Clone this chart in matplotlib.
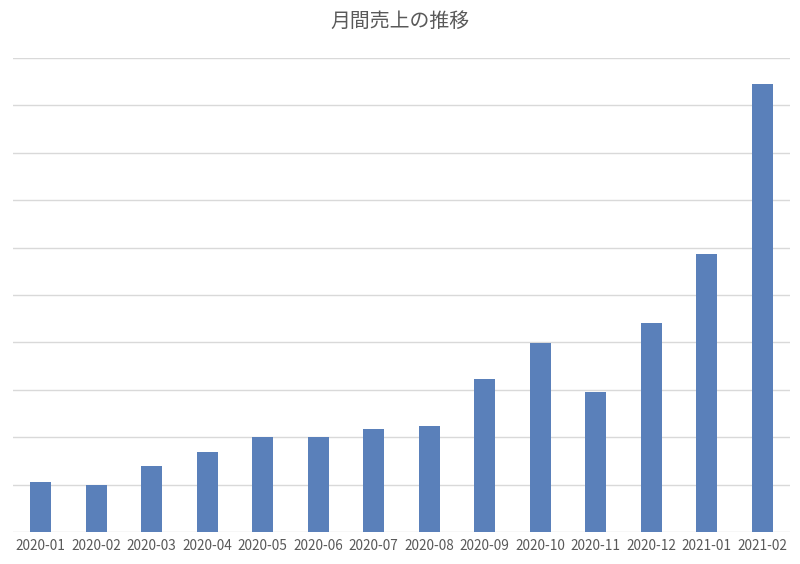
import matplotlib.pyplot as plt

plt.rcParams['font.family'] = ['Noto Sans CJK JP', 'DejaVu Sans']

months = ['2020-01', '2020-02', '2020-03', '2020-04', '2020-05', '2020-06', '2020-07',
          '2020-08', '2020-09', '2020-10', '2020-11', '2020-12', '2021-01', '2021-02']
sales = [1.05, 0.99, 1.39, 1.69, 2.0, 2.0, 2.17, 2.24, 3.23, 3.99, 2.95, 4.41, 5.86, 9.45]

fig = plt.figure(figsize=(8, 5.64), dpi=100)
ax = fig.add_axes([0.01625, 0.0567, 0.9712, 0.8403])

x = range(len(months))
ax.bar(x, sales, width=0.38, color='#5a80ba', zorder=2)

ax.set_xlim(-0.5, len(months) - 0.5)
ax.set_ylim(0, 10)
ax.set_yticks(range(0, 11))
ax.yaxis.grid(True, color='#d9d9d9', linewidth=1, zorder=0)
ax.tick_params(axis='y', left=False, labelleft=False)
ax.set_xticks(list(x))
ax.set_xticklabels(months, fontsize=9.8, color='#595959')
ax.tick_params(axis='x', length=0, pad=5)
for s in ax.spines.values():
    s.set_visible(False)

fig.text(0.5, 0.962, '月間売上の推移', ha='center', va='center', fontsize=14.3, color='#595959')

fig.savefig('out.png', dpi=100)
